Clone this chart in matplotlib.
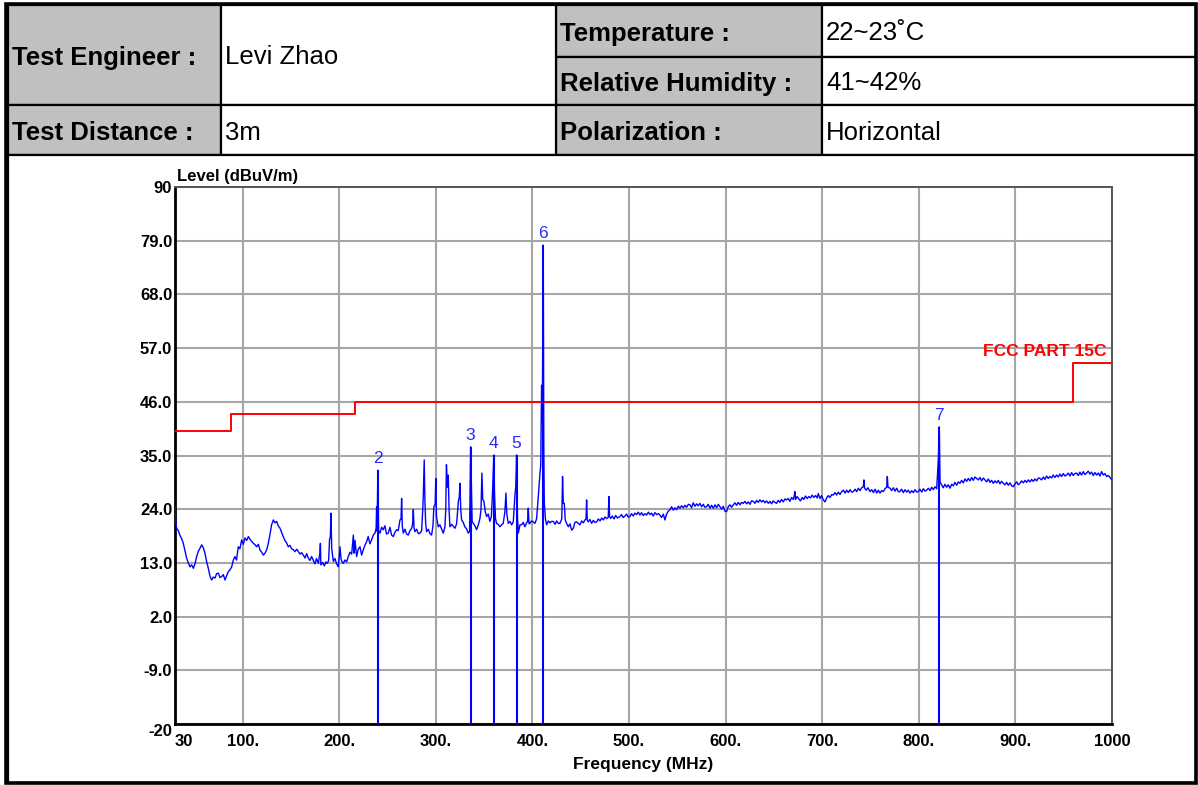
"""
Radiated emission plot (30 MHz - 1 GHz, horizontal) with test header table.
"""

import numpy as np
import matplotlib
matplotlib.use("Agg")
import matplotlib.pyplot as plt
from matplotlib import font_manager
from matplotlib.patches import Rectangle

# ---------------------------------------------------------------- data
header_labels = ["Test Engineer :", "Temperature :", "Relative Humidity :",
                 "Test Distance :", "Polarization :"]
header_values = ["Levi Zhao", "22~23\u02daC", "41~42%", "3m", "Horizontal"]

x_ticks = [30, 100, 200, 300, 400, 500, 600, 700, 800, 900, 1000]
x_tick_labels = ["30", "100.", "200.", "300.", "400.", "500.", "600.",
                 "700.", "800.", "900.", "1000"]
y_ticks = [-20, -9, 2, 13, 24, 35, 46, 57, 68, 79, 90]
y_tick_labels = ["-20", "-9.0", "2.0", "13.0", "24.0", "35.0", "46.0",
                 "57.0", "68.0", "79.0", "90"]

# FCC Part 15C limit (step edges in MHz, level in dBuV/m)
limit_edges = [30, 88, 216, 960, 1000]
limit_level = [40.0, 43.5, 46.0, 54.0, 54.0]

# marked peaks
marker_ids = ["2", "3", "4", "5", "6", "7"]
marker_freq = [240.0, 336.0, 360.0, 383.6, 411.2, 821.2]
marker_level = [32.0, 36.8, 35.1, 35.1, 78.1, 40.9]

trace_low = [
    (30.0, 24.5), (30.7, 21.5), (31.7, 20.1), (33.5, 19.6), (35.0, 18.7),
    (36.8, 18.0), (38.6, 17.0), (40.3, 15.5), (42.0, 14.0), (43.8, 13.0),
    (45.5, 12.2), (47.2, 12.6), (49.0, 11.9), (50.7, 12.8), (52.4, 14.3),
    (54.2, 15.4), (55.9, 16.0), (57.6, 16.7), (59.3, 16.1), (61.0, 15.0),
    (62.8, 13.2), (64.5, 11.9), (66.2, 10.3), (68.0, 9.5), (69.7, 10.1),
    (71.4, 9.9), (73.1, 10.8), (74.9, 10.9), (76.6, 10.0), (78.3, 10.2),
    (80.0, 10.6), (81.8, 9.5), (83.5, 10.4), (85.2, 11.2), (87.0, 11.6),
    (88.7, 12.2), (90.4, 13.6), (92.0, 14.3), (93.7, 13.6), (95.5, 16.3),
    (97.2, 15.9), (99.0, 17.7), (100.7, 16.8), (102.5, 18.1), (104.2, 17.6),
    (106.0, 18.4), (107.7, 17.8), (109.4, 17.4), (111.2, 17.0), (113.0, 16.7),
    (114.5, 16.3), (116.3, 16.8), (118.0, 15.6), (119.7, 15.2), (121.4, 14.6),
    (123.2, 15.0), (124.9, 15.7), (126.6, 17.0), (128.3, 18.8), (130.0, 20.8),
    (131.8, 21.8), (133.5, 21.2), (135.2, 21.5), (136.9, 20.6), (138.7, 20.1),
    (140.4, 19.2), (142.0, 18.4), (143.8, 17.6), (145.5, 17.1), (147.3, 16.3),
    (149.0, 16.6), (150.7, 15.9), (152.5, 15.7), (154.2, 15.3), (156.0, 15.8),
    (157.7, 15.3), (159.4, 14.8), (161.1, 15.1), (162.8, 14.6), (164.6, 14.0),
    (166.3, 14.9), (168.0, 14.0), (169.7, 13.5), (171.4, 14.3), (173.0, 13.6),
    (174.8, 12.8), (176.5, 13.9), (178.4, 12.9), (180.0, 15.0), (180.5, 17.0),
    (181.0, 12.6), (182.8, 13.1), (184.5, 12.4), (186.3, 13.2), (187.5, 12.9),
    (189.0, 13.4), (190.0, 17.8), (190.8, 18.4), (191.5, 23.2), (192.2, 16.0),
    (193.9, 13.3), (195.6, 13.9), (197.3, 12.8), (199.0, 12.2), (200.0, 14.2),
    (200.8, 16.3), (201.8, 13.9), (203.0, 13.2), (204.2, 12.9), (206.0, 13.6),
    (207.7, 13.2), (209.4, 14.3), (211.1, 15.2), (212.9, 14.8), (214.6, 18.7),
    (215.5, 15.0), (216.3, 17.6), (218.0, 14.3), (219.7, 15.8), (221.5, 16.3),
    (223.2, 14.6), (224.9, 15.7), (226.6, 16.6), (228.3, 17.3), (230.0, 18.4),
    (231.8, 16.9), (233.5, 17.7), (235.3, 18.7), (237.0, 19.1), (238.2, 20.1),
    (238.7, 24.5), (239.2, 19.5), (240.0, 32.0),
]

trace_mid = [
    (240.8, 19.6), (242.2, 19.1), (243.9, 20.3), (245.6, 19.8), (247.3, 20.6),
    (249.0, 18.9), (250.8, 19.1), (252.5, 20.3), (254.2, 18.7), (256.0, 18.4),
    (257.7, 19.3), (259.4, 19.8), (261.1, 19.6), (262.9, 21.8), (264.0, 22.0),
    (264.6, 26.2), (265.3, 20.5), (266.3, 19.1), (268.0, 19.9), (269.8, 18.9),
    (271.5, 18.7), (273.2, 19.6), (275.0, 20.1), (276.0, 21.0), (276.7, 23.9),
    (277.4, 20.2), (278.4, 19.4), (280.1, 19.9), (281.9, 19.0), (283.6, 19.1),
    (285.3, 19.6), (286.5, 24.0), (287.0, 26.6), (288.0, 34.1), (288.7, 25.8),
    (289.5, 21.0), (290.5, 19.4), (292.2, 19.9), (293.9, 19.0), (295.6, 18.7),
    (297.0, 20.5), (298.0, 24.5), (299.3, 25.0), (300.0, 30.3), (300.7, 22.5),
    (302.5, 20.4), (304.2, 20.8), (306.0, 19.9), (307.7, 19.1), (309.4, 20.3),
    (310.3, 24.0), (311.0, 33.1), (312.0, 28.5), (312.9, 31.0), (313.7, 24.0),
    (314.6, 20.4), (316.4, 20.9), (318.1, 20.5), (319.8, 20.1), (321.5, 21.0),
    (322.5, 23.4), (323.3, 25.6), (324.3, 26.5), (325.0, 29.3), (325.8, 24.0),
    (326.7, 21.8), (328.4, 21.3), (330.0, 20.4), (331.8, 20.0), (333.6, 19.1),
    (335.0, 19.5), (336.0, 36.8), (336.8, 29.4), (337.6, 21.5), (338.8, 21.1),
    (340.5, 20.6), (342.2, 19.8), (344.0, 20.8), (345.7, 22.1), (346.8, 24.0),
    (347.7, 31.4), (348.6, 26.0), (349.8, 25.6), (351.2, 23.5), (352.6, 22.5),
    (354.3, 23.0), (356.0, 21.5), (357.5, 22.5), (358.8, 27.9), (360.0, 35.1),
    (360.8, 27.0), (361.8, 22.0), (362.9, 21.1), (364.6, 20.9), (366.4, 20.4),
    (368.1, 20.8), (369.8, 21.1), (371.5, 23.5), (372.6, 27.3), (373.5, 23.0),
    (375.0, 21.1), (376.8, 21.5), (378.5, 20.8), (380.2, 21.4), (381.9, 26.9),
    (382.8, 28.7), (383.6, 35.1), (384.5, 22.5), (385.4, 19.1), (387.1, 20.8),
    (388.8, 20.8), (390.5, 21.3), (392.2, 20.4), (394.0, 21.2), (395.0, 21.5),
    (395.7, 24.2), (396.5, 21.0), (397.4, 21.1), (399.1, 21.6), (400.9, 21.4),
    (402.6, 21.1), (404.3, 22.0), (406.1, 26.6), (407.8, 31.3), (408.6, 33.0),
    (409.5, 49.4), (410.3, 42.0), (411.2, 78.1), (411.8, 36.0), (412.3, 25.2),
    (413.5, 22.0), (414.7, 20.8), (416.5, 21.6), (418.2, 21.2), (419.9, 21.5),
    (421.6, 21.5), (423.4, 20.9), (425.1, 21.6), (426.8, 21.1), (428.5, 21.1),
    (430.4, 22.0), (431.2, 30.7), (432.0, 25.2), (433.0, 25.2), (434.0, 21.8),
    (435.4, 21.1), (437.2, 20.4), (438.9, 21.0), (440.6, 19.7), (442.3, 20.1),
    (444.0, 21.3), (445.8, 21.4), (447.5, 21.1), (449.2, 20.8), (451.0, 21.6),
    (452.7, 21.2), (454.4, 21.8), (455.5, 22.0), (456.1, 25.9), (456.8, 21.7),
    (457.8, 21.4), (459.5, 21.9), (461.3, 21.1), (463.0, 21.7), (464.8, 21.3),
    (466.5, 21.4), (468.2, 22.0), (470.0, 21.6), (471.7, 22.2), (473.4, 21.8),
    (475.1, 22.4), (476.8, 22.1), (478.5, 22.3), (479.2, 26.6), (479.9, 22.5),
]

trace_high = [
    (481.0, 22.1), (482.7, 22.6), (484.5, 22.0), (486.2, 22.7), (488.0, 22.2),
    (490.6, 22.5), (492.3, 22.9), (494.0, 22.3), (495.8, 22.6), (497.5, 23.0),
    (499.2, 22.4), (501.0, 22.5), (502.7, 23.1), (504.4, 22.6), (506.1, 23.2),
    (507.8, 22.9), (509.6, 23.4), (511.3, 22.8), (513.0, 23.3), (514.7, 22.7),
    (516.5, 23.1), (518.2, 22.8), (520.0, 23.4), (521.7, 22.9), (523.4, 23.2),
    (525.1, 22.6), (526.8, 23.3), (528.6, 22.9), (530.3, 23.1), (532.0, 22.8),
    (533.7, 22.3), (535.5, 23.0), (537.2, 21.8), (538.9, 23.0), (540.6, 23.6),
    (542.4, 23.9), (544.1, 24.5), (545.8, 23.8), (547.5, 24.3), (549.2, 23.9),
    (551.0, 24.6), (552.7, 24.2), (554.4, 24.7), (556.2, 24.3), (557.9, 24.8),
    (559.6, 24.4), (561.4, 25.0), (563.1, 24.9), (564.8, 24.3), (566.5, 25.3),
    (568.3, 24.6), (570.0, 25.1), (571.7, 24.7), (573.4, 25.2), (575.2, 24.5),
    (576.9, 25.0), (578.6, 24.4), (580.3, 24.5), (582.0, 25.0), (583.8, 24.2),
    (585.5, 24.8), (587.2, 24.2), (589.0, 24.9), (590.7, 24.3), (592.4, 25.0),
    (594.1, 24.5), (595.9, 24.0), (597.6, 24.6), (599.3, 23.6), (601.0, 23.5),
    (602.7, 24.5), (604.5, 24.9), (606.2, 24.4), (608.0, 24.9), (609.7, 25.3),
    (611.4, 24.8), (613.1, 25.4), (614.9, 24.9), (616.6, 25.4), (618.3, 25.2),
    (620.0, 25.6), (621.8, 25.1), (623.5, 25.5), (625.2, 25.0), (626.9, 25.7),
    (628.6, 25.6), (630.4, 25.2), (632.1, 25.8), (633.8, 25.4), (635.5, 25.9),
    (637.3, 25.5), (639.0, 25.8), (640.7, 25.3), (642.4, 25.7), (644.2, 25.2),
    (645.9, 25.6), (647.6, 25.1), (649.3, 25.7), (651.0, 25.4), (652.8, 25.2),
    (654.5, 25.8), (656.2, 25.4), (657.9, 26.0), (659.7, 25.5), (661.4, 26.1),
    (663.1, 25.9), (664.8, 26.2), (666.6, 25.6), (668.3, 26.4), (670.0, 26.0),
    (670.8, 26.5), (671.7, 27.6), (672.4, 26.0), (674.1, 26.6), (675.8, 26.1),
    (677.5, 25.7), (679.3, 26.4), (681.0, 26.0), (682.7, 26.7), (684.4, 26.2),
    (686.2, 26.6), (687.9, 26.3), (689.6, 26.9), (691.3, 26.4), (693.1, 26.8),
    (694.8, 26.3), (695.9, 27.2), (697.7, 26.2), (699.4, 26.8), (701.1, 25.9),
    (702.9, 25.5), (704.6, 26.3), (706.3, 26.8), (708.0, 26.4), (709.8, 27.0),
    (711.5, 26.9), (713.2, 27.4), (714.9, 26.9), (716.7, 27.5), (718.4, 27.0),
    (720.1, 27.6), (721.9, 27.9), (723.6, 27.3), (725.3, 27.9), (727.0, 27.4),
    (728.8, 28.0), (730.5, 27.5), (732.2, 27.6), (734.0, 28.1), (735.7, 27.6),
    (737.4, 28.3), (739.1, 27.8), (740.9, 28.4), (742.6, 28.6), (743.2, 30.0),
    (743.9, 28.3), (745.6, 27.9), (747.3, 28.4), (749.5, 27.6), (751.3, 28.0),
    (753.0, 27.4), (754.7, 28.1), (756.4, 27.3), (758.1, 27.9), (759.8, 27.3),
    (761.5, 27.8), (763.3, 27.6), (765.0, 28.2), (766.7, 28.5), (767.4, 30.7),
    (768.1, 28.5), (770.2, 28.3), (771.9, 27.8), (773.6, 28.4), (775.4, 27.7),
    (777.1, 28.3), (778.8, 27.6), (780.5, 27.6), (782.2, 28.1), (784.0, 27.4),
    (785.7, 28.0), (787.4, 27.5), (789.1, 27.9), (790.9, 27.3), (792.6, 27.8),
    (794.3, 27.4), (796.1, 28.0), (797.8, 27.5), (799.5, 27.6), (801.2, 28.1),
    (803.0, 27.5), (804.7, 28.2), (806.4, 27.7), (808.1, 27.9), (809.9, 28.3),
    (811.6, 27.8), (813.3, 28.5), (815.0, 28.0), (816.7, 28.6), (818.5, 28.2),
    (820.2, 34.1), (821.2, 40.9), (822.0, 29.5), (823.6, 29.0), (825.3, 28.4),
    (827.1, 29.1), (828.8, 28.5), (830.5, 29.0), (832.3, 28.3), (834.0, 29.1),
    (835.7, 28.8), (837.4, 29.5), (839.2, 28.9), (840.9, 29.6), (842.6, 29.3),
    (844.3, 29.9), (846.1, 29.4), (847.8, 30.2), (849.5, 29.7), (851.2, 30.3),
    (853.0, 29.8), (854.7, 30.5), (856.4, 29.9), (858.1, 30.6), (859.9, 30.3),
    (861.6, 30.0), (863.3, 30.5), (865.0, 29.8), (866.8, 30.4), (868.5, 30.0),
    (870.2, 29.6), (871.9, 30.2), (873.7, 29.5), (875.4, 29.9), (877.1, 29.3),
    (878.8, 29.8), (880.6, 29.4), (882.3, 29.9), (884.0, 29.2), (885.7, 29.7),
    (887.5, 29.3), (889.2, 29.0), (890.9, 29.5), (892.6, 28.9), (894.4, 29.4),
    (896.1, 28.8), (897.8, 28.6), (899.5, 29.2), (901.3, 29.6), (903.0, 29.0),
    (904.7, 29.3), (906.4, 29.8), (908.2, 29.4), (909.9, 29.9), (911.6, 29.5),
    (913.3, 30.0), (915.1, 29.6), (916.8, 30.1), (918.5, 29.7), (920.2, 30.2),
    (922.0, 29.8), (923.7, 30.4), (925.4, 30.3), (927.1, 30.0), (928.9, 30.6),
    (930.6, 30.1), (932.3, 30.8), (934.0, 30.3), (935.8, 30.7), (937.5, 30.4),
    (939.2, 31.0), (940.9, 30.5), (942.7, 31.0), (944.4, 30.6), (946.1, 31.2),
    (947.8, 30.7), (949.6, 31.3), (951.3, 30.8), (953.0, 31.0), (954.7, 31.4),
    (956.5, 30.8), (958.2, 31.5), (959.9, 30.9), (961.6, 31.3), (963.4, 31.4),
    (965.1, 30.9), (966.8, 31.6), (968.5, 31.0), (970.3, 31.7), (972.0, 31.1),
    (973.7, 31.4), (975.4, 31.8), (977.2, 31.2), (978.9, 31.6), (980.6, 30.9),
    (982.3, 31.5), (984.1, 31.0), (985.8, 31.4), (987.5, 30.8), (989.2, 31.7),
    (991.0, 31.0), (992.7, 31.3), (994.4, 30.7), (996.1, 30.9), (997.9, 30.5),
    (1000.0, 30.0),
]

# ---------------------------------------------------------------- fonts
installed = {f.name for f in font_manager.fontManager.ttflist}
SANS = "Liberation Sans" if "Liberation Sans" in installed else "DejaVu Sans"
NARROW = "Liberation Sans Narrow" if "Liberation Sans Narrow" in installed else SANS
plt.rcParams["font.family"] = SANS

W, H = 1198, 785
fig = plt.figure(figsize=(W / 100, H / 100), dpi=100)

# ---------------------------------------------------------------- header table (pixel coords)
bg = fig.add_axes([0, 0, 1, 1])
bg.set_xlim(0, W)
bg.set_ylim(H, 0)
bg.axis("off")

GRAY = "#c0c0c0"
# (x0, y0, x1, y1) for label cells, then value cells
label_cells = [(8, 5, 221, 105), (556, 5, 822, 57), (556, 57, 822, 105),
               (8, 105, 221, 155), (556, 105, 822, 155)]
value_cells = [(221, 5, 556, 105), (822, 5, 1196, 57), (822, 57, 1196, 105),
               (221, 105, 556, 155), (822, 105, 1196, 155)]

for (x0, y0, x1, y1), txt in zip(label_cells, header_labels):
    bg.add_patch(Rectangle((x0, y0), x1 - x0, y1 - y0, facecolor=GRAY,
                           edgecolor="black", lw=1.6))
    bg.text(x0 + 4, (y0 + y1) / 2 + 9.5, txt, ha="left", va="baseline",
            fontsize=18.5, fontweight="bold", color="black")
for (x0, y0, x1, y1), txt in zip(value_cells, header_values):
    bg.add_patch(Rectangle((x0, y0), x1 - x0, y1 - y0, facecolor="white",
                           edgecolor="black", lw=1.6))
    bg.text(x0 + 4, (y0 + y1) / 2 + 9.5, txt, ha="left", va="baseline",
            fontsize=18.5, color="black")

# chart box and outer frame
bg.add_patch(Rectangle((8, 155), 1188, 628, facecolor="white",
                       edgecolor="black", lw=1.6))
bg.add_patch(Rectangle((6, 4), 1190, 779, facecolor="none",
                       edgecolor="black", lw=2.6))

# ---------------------------------------------------------------- chart
ax = fig.add_axes([175 / W, 1 - 724 / H, (1112 - 175) / W, (724 - 187) / H])
ax.set_xlim(30, 1000)
ax.set_ylim(-20, 90)

ax.set_xticks(x_ticks)
ax.set_xticklabels(x_tick_labels)
ax.set_yticks(y_ticks)
ax.set_yticklabels(y_tick_labels)
ax.tick_params(length=0, labelsize=12, pad=2)
ax.tick_params(axis="x", pad=7)
for lab in ax.get_xticklabels() + ax.get_yticklabels():
    lab.set_fontweight("bold")
    lab.set_family(NARROW)
ax.get_xticklabels()[0].set_ha("left")
ax.get_yticklabels()[0].set_va("top")
ax.get_yticklabels()[-1].set_va("center_baseline")

ax.grid(True, color="#a6a6a6", lw=1.5)
ax.set_axisbelow(True)
for side in ("top", "right"):
    ax.spines[side].set_color("#555555")
    ax.spines[side].set_linewidth(1.4)
for side in ("left", "bottom"):
    ax.spines[side].set_color("black")
    ax.spines[side].set_linewidth(2.0)

# trace
trace = trace_low + trace_mid + trace_high
tf = np.array([p[0] for p in trace])
tl = np.array([p[1] for p in trace])
ax.plot(tf, tl, color="#0000ff", lw=1.0, zorder=3)

# limit line
ax.step(limit_edges, limit_level, where="post", color="#ff0000", lw=1.4, zorder=4)
ax.annotate("FCC PART 15C", (limit_edges[-1], limit_level[-1]),
            xytext=(-4, 3), textcoords="offset points", ha="right", va="bottom",
            color="#ff0000", fontsize=12.5, fontweight="bold", family=NARROW)

# markers
ax.vlines(marker_freq, -20, marker_level, color="#0000ff", lw=1.5, zorder=5)
for mid, f, lv in zip(marker_ids, marker_freq, marker_level):
    ax.annotate(mid, (f, lv), xytext=(0, 3), textcoords="offset points",
                ha="center", va="bottom", color="#2a2aff", fontsize=12.5)

# axis titles
ax.text(0.002, 1.005, "Level (dBuV/m)", transform=ax.transAxes, ha="left",
        va="bottom", fontsize=12, fontweight="bold", family=NARROW)
ax.set_xlabel("Frequency (MHz)", fontsize=12.5, fontweight="bold",
              family=NARROW, labelpad=6)

fig.savefig("out.png", dpi=100)
